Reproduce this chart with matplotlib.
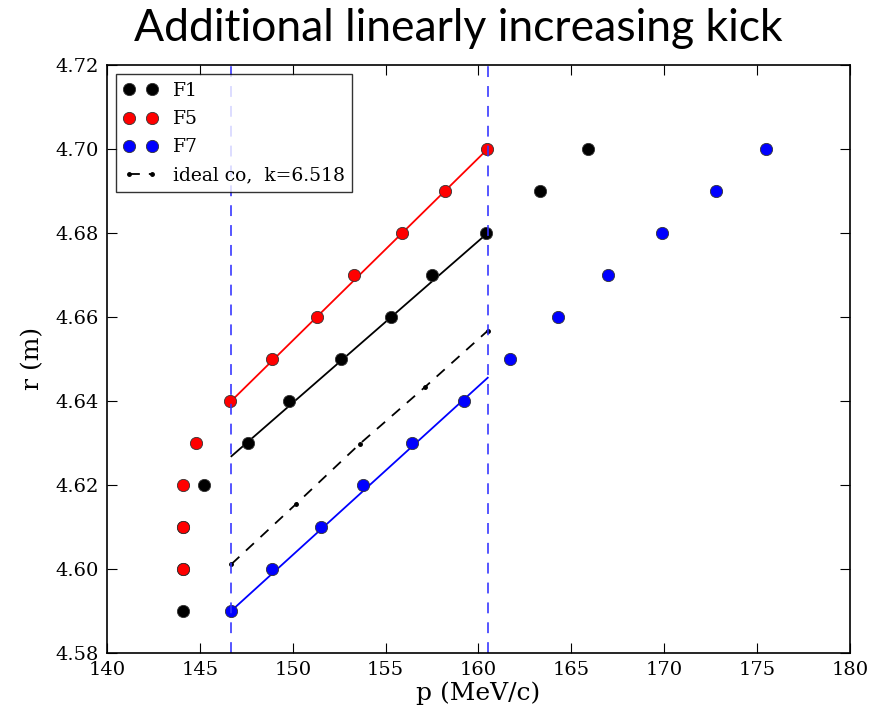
import matplotlib
matplotlib.use("Agg")
import matplotlib.pyplot as plt

# momentum (MeV/c) for each closed-orbit radius
r_f1 = [4.59, 4.60, 4.61, 4.62, 4.63, 4.64, 4.65, 4.66, 4.67, 4.68, 4.69, 4.70]
p_f1 = [144.1, 144.1, 144.1, 145.2, 147.6, 149.8, 152.6, 155.3, 157.5, 160.4, 163.3, 165.9]

r_f5 = [4.60, 4.61, 4.62, 4.63, 4.64, 4.65, 4.66, 4.67, 4.68, 4.69, 4.70]
p_f5 = [144.1, 144.1, 144.1, 144.8, 146.6, 148.9, 151.3, 153.3, 155.9, 158.2, 160.45]

r_f7 = [4.59, 4.60, 4.61, 4.62, 4.63, 4.64, 4.65, 4.66, 4.67, 4.68, 4.69, 4.70]
p_f7 = [146.7, 148.9, 151.5, 153.8, 156.4, 159.2, 161.7, 164.3, 167.0, 169.9, 172.8, 175.5]

# linear fits between the two momentum limits
p_lim = [146.7, 160.5]
fit_f1 = [4.6268, 4.68]
fit_f5 = [4.64, 4.70]
fit_f7 = [4.59, 4.6455]

# ideal closed orbit
p_ideal = [146.7, 150.2, 153.6, 157.1, 160.5]
r_ideal = [4.6011, 4.6155, 4.6297, 4.6432, 4.6567]

plt.rcParams['font.family'] = 'DejaVu Serif'
fig = plt.figure(figsize=(8.84, 7.10), dpi=100)
ax = fig.add_axes([0.121, 0.0807, 0.8405, 0.8278])

ax.plot(p_lim, fit_f5, 'r-', lw=1.3)
ax.plot(p_lim, fit_f1, 'k-', lw=1.3)
ax.plot(p_lim, fit_f7, 'b-', lw=1.3)

mk = dict(ls='none', marker='o', ms=8.8, mec='#333333', mew=0.6)
ax.plot(p_f1, r_f1, color='k', label='F1', **mk)
ax.plot(p_f5, r_f5, color='r', label='F5', **mk)
ax.plot(p_f7, r_f7, color='b', label='F7', **mk)
ax.plot(p_ideal, r_ideal, 'k.--', ms=5, lw=1.3, dashes=(6, 5),
        label='ideal co,  k=6.518')

for p in p_lim:
    ax.axvline(p, color='#3333ff', ls='--', lw=1.3, dashes=(6, 5), alpha=0.9)

ax.set_xlim(140, 180)
ax.set_ylim(4.58, 4.72)
ax.set_xticks(range(140, 181, 5))
ax.set_yticks([4.58 + 0.02 * i for i in range(8)])
ax.set_yticklabels(['%.2f' % (4.58 + 0.02 * i) for i in range(8)])
ax.tick_params(direction='in', top=True, right=True, labelsize=14,
               length=7, width=0.8, pad=6)
for s in ax.spines.values():
    s.set_linewidth(1.2)

ax.set_xlabel('p (MeV/c)', fontsize=18, labelpad=2)
ax.set_ylabel('r (m)', fontsize=18, labelpad=8)

leg = ax.legend(loc='upper left', numpoints=2, fontsize=13.5, fancybox=False,
                frameon=True, borderpad=0.4, labelspacing=0.55,
                handlelength=1.8, handletextpad=0.8, borderaxespad=0.5)
leg.get_frame().set_edgecolor('k')
leg.get_frame().set_linewidth(1.0)

fig.text(0.518, 0.96, 'Additional linearly increasing kick', ha='center',
         va='center', fontsize=32, family='Lato')

fig.savefig('out.png', dpi=100, facecolor='white')
